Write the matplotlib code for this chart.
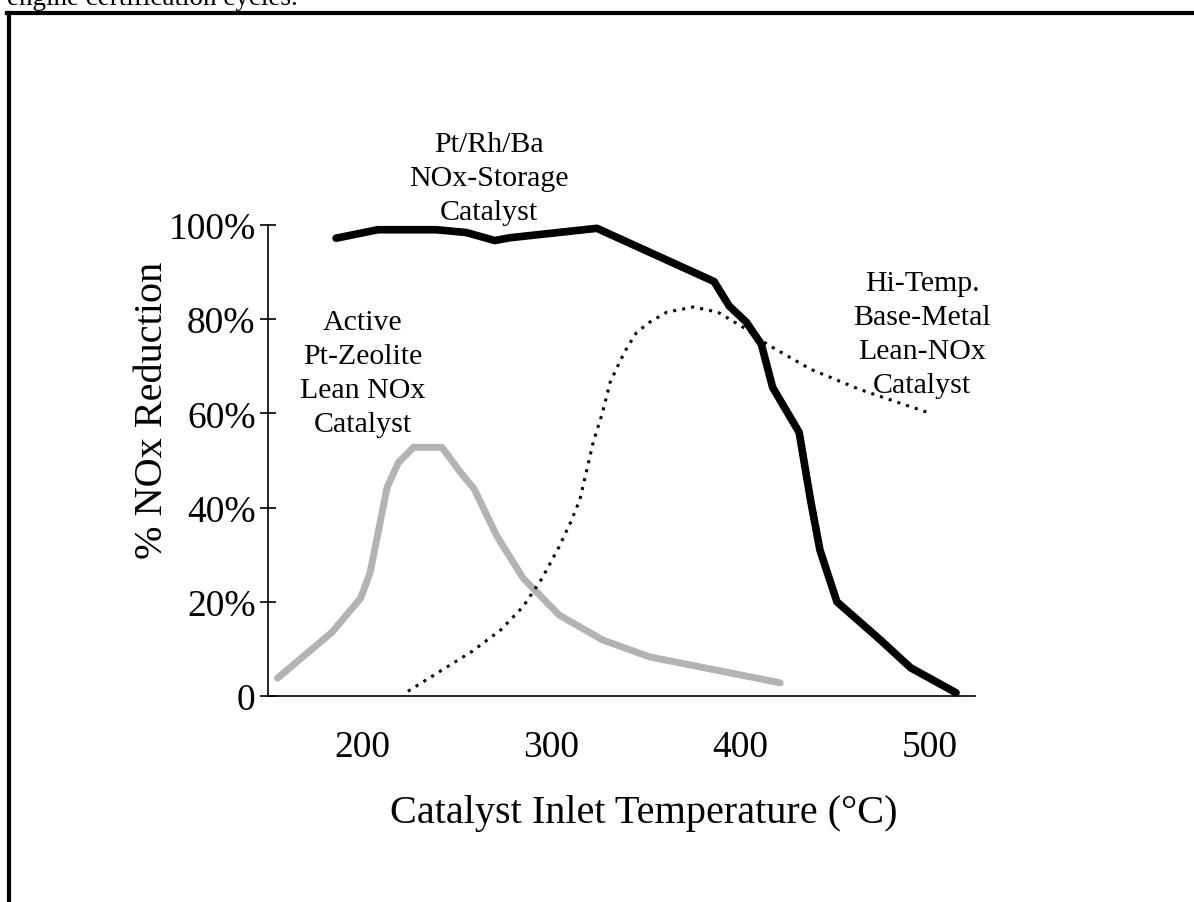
import matplotlib.pyplot as plt
from matplotlib.lines import Line2D

plt.rcParams['font.family'] = ['Liberation Serif', 'DejaVu Serif']

# Pt/Rh/Ba NOx-storage catalyst
storage_x = [186, 208, 239, 255, 270, 278, 324, 386, 394, 403, 411, 417, 431, 437, 442, 451, 474, 490, 514]
storage_y = [97.2, 99.0, 99.0, 98.4, 96.7, 97.3, 99.3, 88.0, 82.8, 79.4, 74.7, 65.5, 56.0, 41.7, 31.0, 20.0, 11.9, 6.0, 0.7]

# Active Pt-zeolite lean NOx catalyst
zeolite_x = [155, 184, 199, 204, 213, 219, 227, 242, 252, 259, 271, 285, 304, 327, 352, 421]
zeolite_y = [3.8, 13.6, 20.8, 26.2, 44.3, 49.6, 52.8, 52.8, 47.4, 44.0, 34.0, 25.0, 17.2, 11.9, 8.3, 2.8]

# Hi-temp base-metal lean NOx catalyst
base_x = [224, 240, 258, 273, 285, 295, 304, 310, 315, 322, 327, 331, 336, 340, 345, 352, 361, 375,
          388, 403, 414, 437, 463, 499]
base_y = [1.0, 5.0, 9.5, 14.0, 19.0, 25.0, 31.7, 36.8, 41.7, 53.8, 60.2, 66.6, 70.9, 74.0, 77.2, 79.4,
          81.5, 82.6, 81.5, 77.9, 74.7, 69.4, 65.1, 60.2]

y_ticks = [0, 20, 40, 60, 80, 100]
y_tick_labels = ['0', '20%', '40%', '60%', '80%', '100%']
x_ticks = [200, 300, 400, 500]

fig = plt.figure(figsize=(11.94, 9.03), dpi=100)
ax = fig.add_axes([0.2245, 0.2281, 0.592, 0.5216])

ax.plot(zeolite_x, zeolite_y, color='#b3b3b3', linewidth=5, solid_capstyle='round', clip_on=False)
ax.plot(base_x, base_y, color='black', linewidth=2.2, linestyle=(0, (1, 2)), clip_on=False)
ax.plot(storage_x, storage_y, color='black', linewidth=5.5, solid_capstyle='round', clip_on=False)

ax.set_xlim(150, 524)
ax.set_ylim(0, 100)
ax.set_yticks(y_ticks)
ax.set_yticklabels(y_tick_labels)
ax.set_xticks(x_ticks)
ax.tick_params(axis='y', direction='inout', length=12, width=1.2, labelsize=27, pad=3)
ax.tick_params(axis='x', length=0, labelsize=27, pad=24)
ax.set_xlabel('Catalyst Inlet Temperature (°C)', fontsize=29)
ax.xaxis.set_label_coords(0.531, -0.207)
ax.set_ylabel('% NOx Reduction', fontsize=29)
ax.yaxis.set_label_coords(-0.138, 0.608)

ax.spines['top'].set_visible(False)
ax.spines['right'].set_visible(False)
ax.spines['left'].set_linewidth(1.2)
ax.spines['bottom'].set_linewidth(1.2)

# curve annotations
ax.text(267, 110, 'Pt/Rh/Ba\nNOx-Storage\nCatalyst', fontsize=21.5, ha='center', va='center',
        linespacing=1.4, clip_on=False)
ax.text(200, 68.5, 'Active\nPt-Zeolite\nLean NOx\nCatalyst', fontsize=21.5, ha='center', va='center',
        linespacing=1.4)
ax.text(496, 76.8, 'Hi-Temp.\nBase-Metal\nLean-NOx\nCatalyst', fontsize=21.5, ha='center', va='center',
        linespacing=1.4, clip_on=False)

# page fragment: cut-off caption and frame
fig.text(7 / 1194, 1 - 5 / 903, 'engine certification cycles.', fontsize=19.5, ha='left', va='baseline')
fig.add_artist(Line2D([8.5 / 1194, 8.5 / 1194], [0, 1 - 14 / 903], color='black', linewidth=3,
                      transform=fig.transFigure))
fig.add_artist(Line2D([7 / 1194, 1], [1 - 14 / 903, 1 - 14 / 903], color='black', linewidth=3,
                      transform=fig.transFigure))

fig.savefig('out.png', dpi=100)
